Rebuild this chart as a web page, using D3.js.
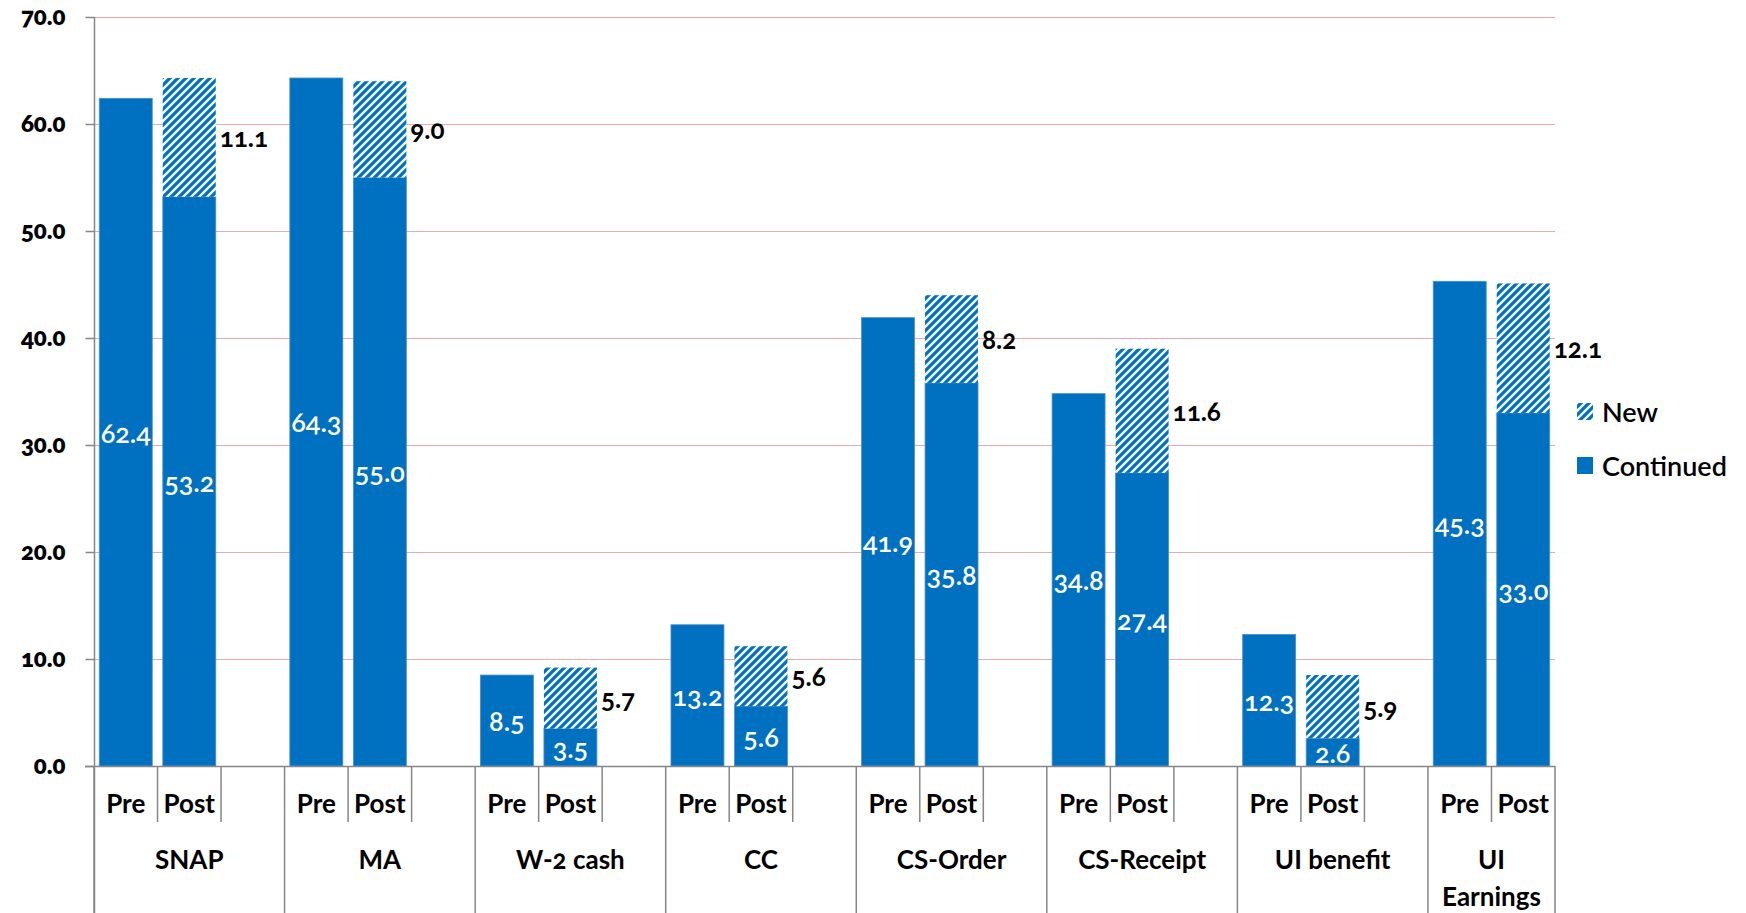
<!DOCTYPE html>
<html>
<head>
<meta charset="utf-8">
<script src="https://cdn.jsdelivr.net/npm/d3@7"></script>
<style>
  html, body { margin: 0; padding: 0; background: #ffffff; }
  svg { display: block; }
  text { font-family: Lato, "Open Sans", sans-serif; font-variant-numeric: oldstyle-nums; }
</style>
</head>
<body>
<svg id="chart" width="1746" height="913"></svg>
<script>
// Programs and their pre/post participation (percent)
const programs = ["SNAP", "MA", "W-2 cash", "CC", "CS-Order", "CS-Receipt", "UI benefit", "UI Earnings"];
const periods = ["Pre", "Post"];
const preContinued = [62.4, 64.3, 8.5, 13.2, 41.9, 34.8, 12.3, 45.3];
const postContinued = [53.2, 55.0, 3.5, 5.6, 35.8, 27.4, 2.6, 33.0];
const postNew = [11.1, 9.0, 5.7, 5.6, 8.2, 11.6, 5.9, 12.1];
const yTicks = [0, 10, 20, 30, 40, 50, 60, 70];
const legendItems = ["New", "Continued"];

(function draw() {
  const BLUE = "#0070C0";
  const AXIS = "#868686";
  const GRID = "#E8AAAA";

  const svg = d3.select("#chart");
  const W = 1746, H = 913;
  const plotLeft = 94, plotRight = 1555, plotTop = 17, plotBottom = 766;
  const periodRowBottom = 822;

  // Hatch pattern for the "New" segment
  const defs = svg.append("defs");
  const pat = defs.append("pattern")
    .attr("id", "hatch")
    .attr("patternUnits", "userSpaceOnUse")
    .attr("width", 8).attr("height", 8);
  pat.append("rect").attr("width", 8).attr("height", 8).attr("fill", "#F4F4F4");
  pat.append("path")
    .attr("d", "M-2,2 L2,-2 M0,8 L8,0 M6,10 L10,6")
    .attr("stroke", BLUE).attr("stroke-width", 3.2).attr("stroke-linecap", "square");

  // Category slots: Pre, Post and a blank spacer between programs
  const slots = [];
  programs.forEach((p, i) => {
    periods.forEach(per => slots.push(p + "|" + per));
    if (i < programs.length - 1) slots.push(p + "|");
  });

  const x = d3.scaleBand().domain(slots).range([plotLeft, plotRight]).padding(0);
  const y = d3.scaleLinear().domain([0, 70]).range([plotBottom, plotTop]);
  const bw = x.bandwidth();
  const barW = bw * 0.834;
  const barX = key => x(key) + (bw - barW) / 2;

  // Gridlines
  svg.append("g").selectAll("line")
    .data(yTicks.filter(t => t > 0))
    .join("line")
    .attr("x1", plotLeft).attr("x2", plotRight)
    .attr("y1", d => Math.round(y(d)) + 0.5).attr("y2", d => Math.round(y(d)) + 0.5)
    .attr("stroke", GRID).attr("stroke-width", 1.2);

  // Bars
  const rows = programs.map((p, i) => ({
    program: p,
    pre: preContinued[i],
    post: postContinued[i],
    add: postNew[i]
  }));

  const gBars = svg.append("g");
  rows.forEach(r => {
    gBars.append("rect")
      .attr("x", barX(r.program + "|Pre")).attr("width", barW)
      .attr("y", y(r.pre)).attr("height", y(0) - y(r.pre))
      .attr("fill", BLUE).attr("stroke", "#4A90D0").attr("stroke-width", 0.8);
    gBars.append("rect")
      .attr("x", barX(r.program + "|Post")).attr("width", barW)
      .attr("y", y(r.post)).attr("height", y(0) - y(r.post))
      .attr("fill", BLUE).attr("stroke", "#4A90D0").attr("stroke-width", 0.8);
    gBars.append("rect")
      .attr("x", barX(r.program + "|Post")).attr("width", barW)
      .attr("y", y(r.post + r.add)).attr("height", y(r.post) - y(r.post + r.add))
      .attr("fill", "url(#hatch)");
  });

  // Value labels
  const fmt = d3.format(".1f");
  const gLab = svg.append("g");
  rows.forEach(r => {
    gLab.append("text")
      .attr("x", barX(r.program + "|Pre") + barW / 2)
      .attr("y", y(r.pre / 2))
      .attr("text-anchor", "middle").attr("dominant-baseline", "central")
      .attr("fill", "#ffffff").attr("font-size", 27).attr("font-weight", 600)
      .text(fmt(r.pre));
    gLab.append("text")
      .attr("x", barX(r.program + "|Post") + barW / 2)
      .attr("y", y(r.post / 2))
      .attr("text-anchor", "middle").attr("dominant-baseline", "central")
      .attr("fill", "#ffffff").attr("font-size", 27).attr("font-weight", 600)
      .text(fmt(r.post));
    gLab.append("text")
      .attr("x", barX(r.program + "|Post") + barW + 4)
      .attr("y", y(r.post + r.add / 2))
      .attr("text-anchor", "start").attr("dominant-baseline", "central")
      .attr("fill", "#000000").attr("font-size", 26).attr("font-weight", 700)
      .text(fmt(r.add));
  });

  // Y axis
  const yAxis = d3.axisLeft(y).tickValues(yTicks).tickFormat(fmt).tickSize(9).tickPadding(20);
  const gy = svg.append("g").attr("transform", `translate(${plotLeft + 0.5},0)`).call(yAxis);
  gy.select(".domain").remove();
  gy.selectAll(".tick line").attr("stroke", AXIS).attr("stroke-width", 1.5);
  gy.selectAll(".tick text")
    .attr("font-size", 24).attr("font-weight", 800).attr("fill", "#000")
    .style("font-family", "Lato, sans-serif");
  svg.append("line")
    .attr("x1", plotLeft + 0.5).attr("x2", plotLeft + 0.5).attr("y1", plotTop).attr("y2", H)
    .attr("stroke", AXIS).attr("stroke-width", 1.5);

  // X axis baseline
  svg.append("line")
    .attr("x1", plotLeft - 9).attr("x2", plotRight).attr("y1", plotBottom + 0.5).attr("y2", plotBottom + 0.5)
    .attr("stroke", AXIS).attr("stroke-width", 1.5);

  // Slot dividers (short) and program dividers (full height)
  const gAx = svg.append("g");
  const boundaries = slots.map(s => x(s)).concat([plotRight]);
  boundaries.forEach((bx, i) => {
    const key = slots[i];
    const isProgramEdge = i === 0 || i === slots.length || (key && key.endsWith("|Pre"));
    gAx.append("line")
      .attr("x1", bx).attr("x2", bx)
      .attr("y1", plotBottom).attr("y2", isProgramEdge ? H : periodRowBottom)
      .attr("stroke", AXIS).attr("stroke-width", 1.5);
  });

  // Period labels
  slots.filter(s => !s.endsWith("|")).forEach(s => {
    gAx.append("text")
      .attr("x", x(s) + bw / 2).attr("y", 813)
      .attr("text-anchor", "middle")
      .attr("font-size", 26).attr("font-weight", 700).attr("fill", "#000")
      .text(s.split("|")[1]);
  });

  // Program labels (wrapped when wider than the program span)
  programs.forEach((p, i) => {
    const x0 = x(p + "|Pre");
    const x1 = i < programs.length - 1 ? x(programs[i + 1] + "|Pre") : plotRight;
    const cx = (x0 + x1) / 2;
    const t = gAx.append("text")
      .attr("x", cx).attr("y", 869)
      .attr("text-anchor", "middle")
      .attr("font-size", 26).attr("font-weight", 700).attr("fill", "#000")
      .text(p);
    if (t.node().getComputedTextLength() > (x1 - x0) - 8) {
      t.text(null);
      p.split(" ").forEach((w, k) => {
        t.append("tspan").attr("x", cx).attr("dy", k === 0 ? 0 : 37).text(w);
      });
    }
  });

  // Legend
  const gLeg = svg.append("g");
  legendItems.forEach((name, k) => {
    const ly = k === 0 ? 411 : 465;
    gLeg.append("rect")
      .attr("x", 1577).attr("y", ly - 8).attr("width", 16).attr("height", 17)
      .attr("fill", name === "New" ? "url(#hatch)" : BLUE);
    gLeg.append("text")
      .attr("x", 1602).attr("y", ly)
      .attr("dominant-baseline", "central")
      .attr("font-size", 27).attr("font-weight", 600).attr("fill", "#000")
      .text(name);
  });
})();
</script>
</body>
</html>
